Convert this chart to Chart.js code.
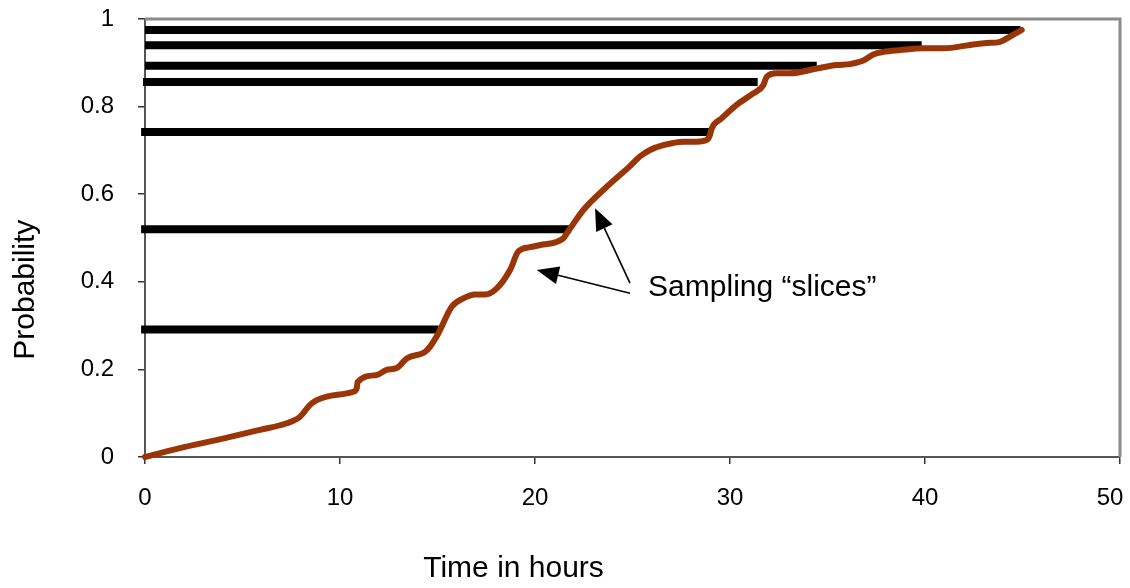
<!DOCTYPE html>
<html>
<head>
<meta charset="utf-8">
<script src="https://cdn.jsdelivr.net/npm/chart.js@4/dist/chart.umd.min.js"></script>
<style>
  html, body { margin: 0; padding: 0; background: #ffffff; }
  #wrap { width: 1130px; height: 588px; }
</style>
</head>
<body>
<div id="wrap"><canvas id="c" width="1130" height="588"></canvas></div>
<script>
// Cumulative probability curve (time in hours vs probability)
const hours = [0, 2.05, 4.10, 5.90, 7.27, 7.95, 8.46, 8.81, 9.32, 10.68, 10.86, 10.90, 11.88, 12.39, 12.91,
  13.42, 14.36, 14.62, 15.04, 15.73, 16.32, 16.92, 17.44, 18.04, 18.72, 19.14, 19.74, 20.26, 21.45,
  21.63, 21.79, 22.48, 23.68, 24.87, 25.38, 25.90, 26.58, 27.61, 28.29, 28.81, 28.97, 29.06, 29.57,
  30.34, 31.19, 31.71, 31.88, 32.39, 33.08, 34.45, 35.47, 36.15, 36.84, 37.35, 37.86, 38.72, 39.91,
  40.94, 42.48, 43.16, 43.85, 44.36, 44.96];
const probability = [0, 0.023, 0.043, 0.062, 0.077, 0.092, 0.119, 0.130, 0.138, 0.149, 0.157, 0.171, 0.187, 0.199, 0.203,
  0.225, 0.240, 0.252, 0.282, 0.343, 0.362, 0.371, 0.371, 0.385, 0.427, 0.469, 0.479, 0.484, 0.499,
  0.511, 0.521, 0.564, 0.617, 0.664, 0.686, 0.701, 0.712, 0.720, 0.720, 0.724, 0.735, 0.750, 0.773,
  0.804, 0.830, 0.849, 0.868, 0.876, 0.876, 0.887, 0.895, 0.897, 0.905, 0.919, 0.925, 0.929, 0.933,
  0.933, 0.942, 0.945, 0.948, 0.960, 0.975];

// Sampling slices: probability level, where each slice starts and where it meets the curve
const sliceLevels = [0.975, 0.940, 0.893, 0.856, 0.742, 0.520, 0.291];
const sliceStarts = [0, 0, 0, -0.1, -0.2, -0.2, -0.2];
const sliceEnds = [44.90, 39.83, 34.45, 31.42, 28.97, 21.83, 15.06];

// Axis ticks
const xTicks = [0, 10, 20, 30, 40, 50];
const yTicks = [0, 0.2, 0.4, 0.6, 0.8, 1];

const FONT = "'Liberation Sans', Arial, Helvetica, sans-serif";

const curveData = hours.map((h, i) => ({ x: h, y: probability[i] }));

const sliceSets = sliceLevels.map((p, i) => ({
  label: 'slice ' + (i + 1),
  data: [{ x: sliceStarts[i], y: p }, { x: sliceEnds[i], y: p }],
  borderColor: '#000000',
  borderWidth: 8,
  borderCapStyle: 'butt',
  pointRadius: 0,
  tension: 0,
  clip: false,
  order: 1
}));

// Frame on the top and right of the plot, axis titles and the callout with arrows
const decorations = {
  id: 'decorations',
  beforeDatasetsDraw(chart) {
    const { ctx, chartArea: a } = chart;
    ctx.save();
    ctx.strokeStyle = '#8a8a8a';
    ctx.lineWidth = 3;
    ctx.beginPath();
    ctx.moveTo(a.left, a.top);
    ctx.lineTo(a.right, a.top);
    ctx.lineTo(a.right, a.bottom);
    ctx.stroke();
    ctx.restore();
  },
  afterDatasetsDraw(chart, args, opts) {
    const { ctx, chartArea: a, scales: { x, y } } = chart;
    ctx.save();
    ctx.fillStyle = '#000';
    ctx.font = '30px ' + FONT;

    // axis titles
    ctx.textAlign = 'center';
    ctx.textBaseline = 'alphabetic';
    ctx.fillText('Time in hours', a.left + (a.right - a.left) * 0.378, 577);
    ctx.save();
    ctx.translate(34, a.top + (a.bottom - a.top) * 0.618);
    ctx.rotate(-Math.PI / 2);
    ctx.fillText('Probability', 0, 0);
    ctx.restore();

    // callout
    const c = opts.callout;
    ctx.textAlign = 'left';
    ctx.fillText(c.text, x.getPixelForValue(c.textAt[0]), y.getPixelForValue(c.textAt[1]));

    ctx.strokeStyle = '#000';
    ctx.lineWidth = 1.6;
    c.arrows.forEach(ar => {
      const tx = x.getPixelForValue(ar.from[0]), ty = y.getPixelForValue(ar.from[1]);
      const hx = x.getPixelForValue(ar.to[0]), hy = y.getPixelForValue(ar.to[1]);
      const ang = Math.atan2(hy - ty, hx - tx);
      const len = 22, half = 9;
      const bx = hx - Math.cos(ang) * len, by = hy - Math.sin(ang) * len;
      ctx.beginPath();
      ctx.moveTo(tx, ty);
      ctx.lineTo(bx, by);
      ctx.stroke();
      ctx.beginPath();
      ctx.moveTo(hx, hy);
      ctx.lineTo(bx + Math.sin(ang) * half, by - Math.cos(ang) * half);
      ctx.lineTo(bx - Math.sin(ang) * half, by + Math.cos(ang) * half);
      ctx.closePath();
      ctx.fill();
    });
    ctx.restore();
  }
};

new Chart(document.getElementById('c'), {
  type: 'line',
  data: {
    datasets: [
      {
        label: 'Probability',
        data: curveData,
        borderColor: '#9a3508',
        borderWidth: 6,
        pointRadius: 0,
        cubicInterpolationMode: 'monotone',
        borderJoinStyle: 'round',
        borderCapStyle: 'round',
        clip: false,
        order: 0
      },
      ...sliceSets
    ]
  },
  options: {
    responsive: false,
    animation: false,
    devicePixelRatio: 1,
    layout: { padding: { top: 19, right: 10, left: 0, bottom: 0 } },
    plugins: {
      legend: { display: false },
      tooltip: { enabled: false },
      decorations: {
        callout: {
          text: 'Sampling \u201Cslices\u201D',
          textAt: [25.8, 0.367],
          arrows: [
            { from: [24.87, 0.397], to: [23.08, 0.568] },
            { from: [24.87, 0.374], to: [20.09, 0.427] }
          ]
        }
      }
    },
    scales: {
      x: {
        type: 'linear',
        min: xTicks[0],
        max: xTicks[xTicks.length - 1],
        afterBuildTicks: s => { s.ticks = xTicks.map(v => ({ value: v })); },
        afterFit: s => { s.height = 131; s.paddingLeft = 0; s.paddingRight = 0; },
        ticks: {
          font: { family: FONT, size: 24 }, color: '#000', padding: 20, maxRotation: 0,
          // the last label is nudged left so it stays inside the canvas
          callback: (v, i, arr) => i === arr.length - 1 ? String(v) + '\u00a0\u00a0\u00a0' : String(v)
        },
        grid: { drawOnChartArea: false, drawTicks: true, tickLength: 7, color: '#333', lineWidth: 1.5 },
        border: { display: true, color: '#555555', width: 2 }
      },
      y: {
        type: 'linear',
        min: yTicks[0],
        max: yTicks[yTicks.length - 1],
        afterBuildTicks: s => { s.ticks = yTicks.map(v => ({ value: v })); },
        afterFit: s => { s.width = 145; s.paddingTop = 0; s.paddingBottom = 0; },
        ticks: {
          font: { family: FONT, size: 24 }, color: '#000', padding: 24,
          callback: v => String(v)
        },
        grid: { drawOnChartArea: false, drawTicks: true, tickLength: 7, color: '#333', lineWidth: 1.5 },
        border: { display: true, color: '#555555', width: 2 }
      }
    }
  },
  plugins: [decorations]
});
</script>
</body>
</html>
